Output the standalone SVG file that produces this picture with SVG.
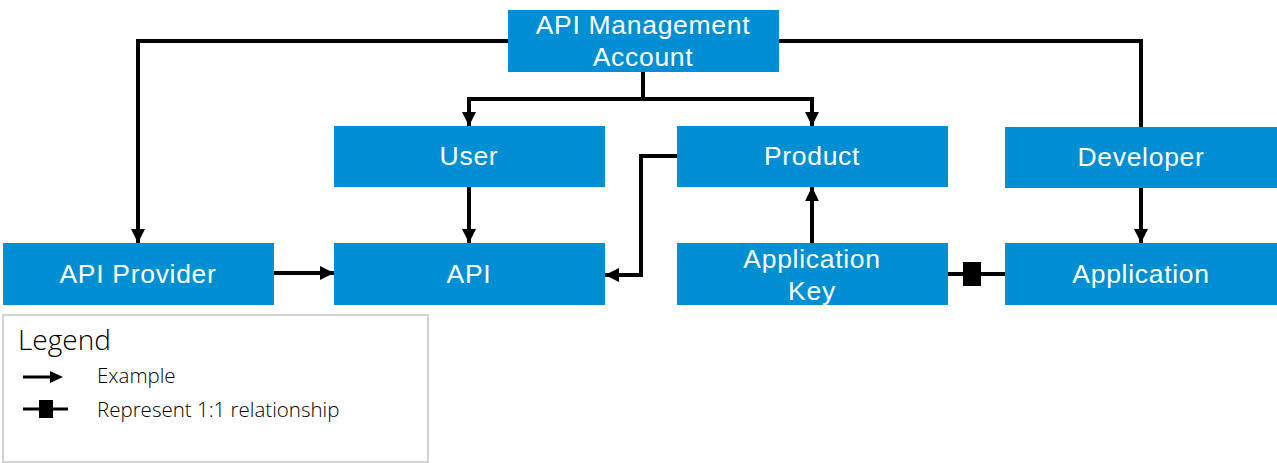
<svg xmlns="http://www.w3.org/2000/svg" width="1277" height="463" viewBox="0 0 1277 463">
<style>
.box{fill:#008fd3}
.lbl{font-family:"Liberation Sans",Arial,sans-serif;font-size:26.5px;letter-spacing:0.7px;fill:#fff;text-anchor:middle}
.con{fill:none;stroke:#000;stroke-width:4}
.lg{font-family:"Open Sans","Liberation Sans",sans-serif;font-weight:300;fill:#000}
</style>
<defs>
<marker id="ah" markerUnits="userSpaceOnUse" markerWidth="14" markerHeight="14" viewBox="0 0 14 14" refX="14" refY="7" orient="auto">
<path d="M0,0 L14,7 L0,14 Z" fill="#000"/>
</marker>
</defs>
<rect width="1277" height="463" fill="#fff"/>
<g id="connectors">
<path class="con" d="M508,41 H138 V243" marker-end="url(#ah)"/>
<path class="con" d="M779,41 H1141 V127"/>
<path class="con" d="M643,72 V99 H469 V126" marker-end="url(#ah)"/>
<path class="con" d="M643,99 H812 V126" marker-end="url(#ah)"/>
<path class="con" d="M469,187 V243" marker-end="url(#ah)"/>
<path class="con" d="M677,156 H641 V275 H605" marker-end="url(#ah)"/>
<path class="con" d="M812,243 V187" marker-end="url(#ah)"/>
<path class="con" d="M274,273 H334" marker-end="url(#ah)"/>
<path class="con" d="M1141,188 V243" marker-end="url(#ah)"/>
<path class="con" d="M948,274 H1005"/>
<rect x="963" y="262" width="18" height="24" fill="#000"/>
</g>
<g id="node-mgmt"><rect class="box" x="508" y="10" width="271" height="62"/><text class="lbl" x="643" y="34">API Management</text><text class="lbl" x="643" y="66">Account</text></g>
<g id="node-user"><rect class="box" x="334" y="126" width="271" height="61"/><text class="lbl" x="469" y="165">User</text></g>
<g id="node-product"><rect class="box" x="677" y="126" width="271" height="61"/><text class="lbl" x="812" y="165">Product</text></g>
<g id="node-developer"><rect class="box" x="1005" y="127" width="272" height="61"/><text class="lbl" x="1141" y="166">Developer</text></g>
<g id="node-apiprovider"><rect class="box" x="3" y="243" width="271" height="62"/><text class="lbl" x="138" y="283">API Provider</text></g>
<g id="node-api"><rect class="box" x="334" y="243" width="271" height="62"/><text class="lbl" x="469" y="283">API</text></g>
<g id="node-appkey"><rect class="box" x="677" y="243" width="271" height="62"/><text class="lbl" x="812" y="268">Application</text><text class="lbl" x="812" y="300">Key</text></g>
<g id="node-application"><rect class="box" x="1005" y="243" width="272" height="62"/><text class="lbl" x="1141" y="283">Application</text></g>
<g id="legend">
<rect x="3" y="315" width="425" height="147" fill="#fff" stroke="#d3d3d3" stroke-width="2"/>
<text class="lg" x="18" y="350" font-size="28">Legend</text>
<path d="M23,377 H52" stroke="#000" stroke-width="3"/>
<path d="M50,371 L63,377 L50,383 Z" fill="#000"/>
<text class="lg" x="97" y="383" font-size="20.5">Example</text>
<path d="M23,409 H68" stroke="#000" stroke-width="3"/>
<rect x="39" y="400" width="14" height="18" fill="#000"/>
<text class="lg" x="97" y="417" font-size="20.5">Represent 1:1 relationship</text>
</g>
</svg>
